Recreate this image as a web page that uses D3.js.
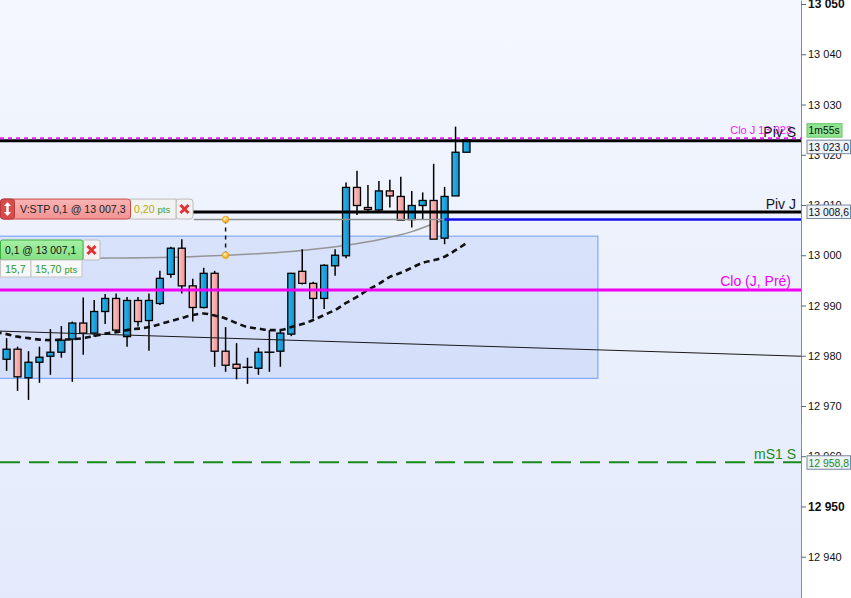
<!DOCTYPE html>
<html><head><meta charset="utf-8">
<script src="https://cdn.jsdelivr.net/npm/d3@7"></script>
<style>html,body{margin:0;padding:0;background:#fff;overflow:hidden}svg{display:block;font-family:"Liberation Sans",Arial,sans-serif}</style>
</head><body><svg id="c" width="851" height="598"></svg>
<script>
// ---------- DATA ----------
const candleOpen  = [12979.3,12981.3,12975.6,12978.7,12979.9,12980.7,12983.3,12986.5,12984.5,12988.8,12991.4,12983.8,12991.0,12987.0,12990.4,12996.2,13001.4,12993.9,12989.6,12996.4,12980.9,12978.3,12977.7,12977.5,12980.7,12980.9,12984.3,12996.8,12994.4,12991.4,12997.9,12999.9,13013.5,13009.5,13009.0,13012.8,13011.7,13007.1,13009.9,13010.9,13003.4,13011.8,13020.5];
const candleHigh  = [12983.5,12981.8,12980.9,12981.8,12985.3,12985.9,12986.8,12991.6,12991.1,12992.3,12992.4,12991.7,12991.7,12992.4,12996.9,13001.7,13003.2,12995.3,12997.5,12996.9,12985.7,12982.5,12979.6,12981.6,12985.1,12985.3,12996.5,13001.2,12994.7,12998.2,13001.2,13014.5,13016.8,13014.0,13014.8,13015.0,13015.6,13012.8,13012.5,13018.2,13013.6,13025.6,13023.4];
const candleLow   = [12977.0,12973.0,12971.2,12974.6,12976.2,12979.6,12974.8,12980.2,12983.8,12986.3,12984.5,12981.8,12985.8,12981.0,12990.1,12995.5,12992.4,12986.8,12989.4,12977.8,12976.8,12975.3,12974.4,12976.2,12976.8,12977.8,12983.9,12994.2,12987.4,12989.3,12995.9,12999.4,13008.0,13008.8,13008.7,13009.5,13007.0,13005.5,13007.1,13003.2,13002.2,13011.8,13020.5];
const candleClose = [12981.3,12975.8,12978.7,12979.7,12980.7,12983.1,12986.5,12984.5,12988.8,12991.4,12985.1,12991.0,12986.8,12991.0,12995.4,13001.4,12993.9,12989.6,12996.4,12980.9,12978.1,12977.5,12977.7,12980.7,12980.7,12984.5,12996.4,12994.4,12991.4,12998.0,13000.0,13013.5,13009.9,13009.1,13012.8,13011.8,13007.0,13009.9,13010.9,13003.2,13011.7,13020.5,13023.0];
// moving average, index -1 .. 42
const maValues = [12984.7,12984.3,12983.8,12983.5,12983.2,12983.1,12983.2,12983.3,12983.5,12983.9,12984.4,12984.7,12985.1,12985.4,12985.7,12986.3,12986.9,12987.5,12988.1,12988.4,12988.0,12987.4,12986.5,12985.7,12985.4,12985.1,12985.1,12985.7,12986.3,12987.1,12988.1,12989.1,12990.5,12991.7,12993.1,12994.3,12995.7,12996.5,12997.5,12998.5,12999.0,12999.7,13001.0,13002.4];
// gray projection curve
const grayCurveIndex  = [-1, 8, 16, 20, 26, 31, 34, 37, 39.5, 40];
const grayCurveValues = [12999.3,12999.4,12999.65,13000.0,13000.75,13002.0,13003.1,13004.7,13006.7,13007.1];
// thin trend line (ends at chart edges)
const trendValues = [12984.9, 12979.9];
// rectangle zone
const zoneIndex = [-2, 54];
const zoneValues = [13003.8, 12975.5];
// horizontal levels
const pinkDashLevel = 13023.3;
const pivSLevel = 13022.8;
const pivJLevel = 13008.6;
const orderLevel = 13007.1;
const orderStopLevel = 13007.3;
const orderStartIndex = 17.1;
const orderBlueIndex = 40;
const dotIndex = 20;
const dotValues = [13007.1, 13000.0];
const cloJPreLevel = 12993.1;
const mS1SLevel = 12958.8;
const lastPrice = 13023.0;
const tickValues = [13050,13040,13030,13020,13010,13000,12990,12980,12970,12960,12950,12940];
const boldTicks = [13050,12950];

// ---------- SETUP ----------
const W=851,H=598,PR=801;
const svg=d3.select("#c");
const x=d3.scaleLinear().domain([0,42]).range([6.6,466.5]);
const y=d3.scaleLinear().domain([12931.78,13050.8]).range([598,0]);
const defs=svg.append("defs");
const bg=defs.append("linearGradient").attr("id","bg").attr("x1",0).attr("y1",0).attr("x2",0).attr("y2",1);
bg.append("stop").attr("offset","0%").attr("stop-color","#f4f7fe");
bg.append("stop").attr("offset","100%").attr("stop-color","#e3eafb");
const gb=defs.append("linearGradient").attr("id","gblue");
gb.append("stop").attr("offset","0%").attr("stop-color","#2cb6ec");
gb.append("stop").attr("offset","100%").attr("stop-color","#1290cc");
const gp=defs.append("linearGradient").attr("id","gpink");
gp.append("stop").attr("offset","0%").attr("stop-color","#fcc4c4");
gp.append("stop").attr("offset","100%").attr("stop-color","#f09494");
const gpk=defs.append("linearGradient").attr("id","gstp").attr("x1",0).attr("y1",0).attr("x2",0).attr("y2",1);
gpk.append("stop").attr("offset","0%").attr("stop-color","#fab4b4");
gpk.append("stop").attr("offset","100%").attr("stop-color","#f29292");
const gg=defs.append("linearGradient").attr("id","ggreen").attr("x1",0).attr("y1",0).attr("x2",0).attr("y2",1);
gg.append("stop").attr("offset","0%").attr("stop-color","#a6f0a6");
gg.append("stop").attr("offset","100%").attr("stop-color","#84e084");
const rg=defs.append("radialGradient").attr("id","gdot").attr("cx","40%").attr("cy","35%");
rg.append("stop").attr("offset","0%").attr("stop-color","#fff2b0");
rg.append("stop").attr("offset","100%").attr("stop-color","#f2b02a");
defs.append("clipPath").attr("id","clip").append("rect").attr("x",0).attr("y",0).attr("width",PR).attr("height",H);

svg.append("rect").attr("width",W).attr("height",H).attr("fill","#ffffff");
svg.append("rect").attr("width",PR).attr("height",H).attr("fill","url(#bg)");
const g=svg.append("g").attr("clip-path","url(#clip)");

// zone
g.append("rect").attr("x",x(zoneIndex[0])).attr("y",y(zoneValues[0]))
 .attr("width",x(zoneIndex[1])-x(zoneIndex[0])).attr("height",y(zoneValues[1])-y(zoneValues[0]))
 .attr("fill","rgba(110,150,245,0.17)").attr("stroke","#6e9ef8").attr("stroke-width",1);

// gray curve
g.append("path").datum(grayCurveIndex.map((d,i)=>[d,grayCurveValues[i]]))
 .attr("d",d3.line().x(d=>x(d[0])).y(d=>y(d[1])).curve(d3.curveMonotoneX))
 .attr("fill","none").attr("stroke","#959595").attr("stroke-width",1.5);

// candles
const cg=g.append("g");
candleOpen.forEach((o,i)=>{
  const c=candleClose[i],h=candleHigh[i],l=candleLow[i],cx=x(i);
  cg.append("line").attr("x1",cx).attr("x2",cx).attr("y1",y(h)).attr("y2",y(l)).attr("stroke","#000").attr("stroke-width",1.5);
  if(o===c){
    cg.append("line").attr("x1",cx-5).attr("x2",cx+5).attr("y1",y(c)).attr("y2",y(c)).attr("stroke","#000").attr("stroke-width",1.5);
  } else {
    const top=Math.min(y(o),y(c)),bot=Math.max(y(o),y(c));
    cg.append("rect").attr("x",cx-3.5).attr("width",7).attr("y",top).attr("height",Math.max(1,bot-top))
      .attr("fill",c>o?"url(#gblue)":"url(#gpink)").attr("stroke","#000").attr("stroke-width",1.3);
  }
});

// trend line
g.append("line").attr("x1",0).attr("x2",PR).attr("y1",y(trendValues[0])).attr("y2",y(trendValues[1]))
 .attr("stroke","#1a1a1a").attr("stroke-width",1);

// MA dashed
g.append("path").datum(maValues.map((v,i)=>[i-1,v]))
 .attr("d",d3.line().x(d=>x(d[0])).y(d=>y(d[1])).curve(d3.curveMonotoneX))
 .attr("fill","none").attr("stroke","#111").attr("stroke-width",2.6).attr("stroke-dasharray","6,4");

// levels
function hline(v,x1,x2,col,w,dash){
  const l=g.append("line").attr("x1",x1).attr("x2",x2).attr("y1",y(v)).attr("y2",y(v)).attr("stroke",col).attr("stroke-width",w);
  if(dash) l.attr("stroke-dasharray",dash);
}
hline(cloJPreLevel,0,PR,"#f000f0",3);
hline(mS1SLevel,0,PR,"#1a8a1a",2,"20,9");
hline(orderLevel,x(orderStartIndex),x(orderBlueIndex),"#8e8e8e",1.5);
hline(orderLevel,x(orderBlueIndex),PR,"#1010e8",2.5);
hline(pivJLevel,0,PR,"#000",3);
hline(pivSLevel,0,PR,"#000",3);
hline(pinkDashLevel,0,PR,"#f020f0",2,"4,4");

// dots + dashed connector
g.append("line").attr("x1",x(dotIndex)).attr("x2",x(dotIndex)).attr("y1",y(dotValues[0])).attr("y2",y(dotValues[1]))
 .attr("stroke","#111").attr("stroke-width",1.5).attr("stroke-dasharray","4,4");
dotValues.forEach(v=>g.append("circle").attr("cx",x(dotIndex)).attr("cy",y(v)).attr("r",3.3)
 .attr("fill","url(#gdot)").attr("stroke","#e0a020").attr("stroke-width",0.8));

// level texts
function ltxt(t,xr,yy,col,size){
  svg.append("text").attr("x",xr).attr("y",yy).attr("text-anchor","end").attr("fill",col).attr("font-size",size).text(t);
}
ltxt("Clo J 13 023",792,y(pinkDashLevel)-4,"#f020f0",11);
ltxt("Piv S",796,y(pivSLevel)-3.5,"#15152a",14);
ltxt("Piv J",796,y(pivJLevel)-3.5,"#15152a",14);
ltxt("Clo (J, Pré)",791,y(cloJPreLevel)-4,"#f000f0",14);
ltxt("mS1 S",796,y(mS1SLevel)-3,"#1a8a1a",14);

// ---------- ORDER BOXES ----------
function xmark(cx,cy){
  svg.append("path").attr("d",`M${cx-4},${cy-4}L${cx+4},${cy+4}M${cx+4},${cy-4}L${cx-4},${cy+4}`)
   .attr("stroke","#e03434").attr("stroke-width",3);
}
const b1t=y(orderStopLevel)-19.5, b1h=20;
svg.append("rect").attr("x",176).attr("y",b1t).attr("width",17).attr("height",b1h).attr("rx",3).attr("fill","#f2f2f2").attr("stroke","#bcbcbc");
svg.append("rect").attr("x",130).attr("y",b1t).attr("width",46).attr("height",b1h).attr("fill","#f2f2f2").attr("stroke","#bcbcbc");
svg.append("rect").attr("x",0.5).attr("y",b1t).attr("width",130).attr("height",b1h).attr("rx",3).attr("fill","url(#gstp)").attr("stroke","#cc4a4a");
svg.append("rect").attr("x",0.5).attr("y",b1t).attr("width",14).attr("height",b1h).attr("rx",3).attr("fill","#d84c4c").attr("stroke","#b83a3a");
const ac=7.5, am=b1t+b1h/2;
svg.append("path").attr("d",`M${ac},${am-7}L${ac+3.5},${am-3}L${ac+1.2},${am-3}L${ac+1.2},${am+3}L${ac+3.5},${am+3}L${ac},${am+7}L${ac-3.5},${am+3}L${ac-1.2},${am+3}L${ac-1.2},${am-3}L${ac-3.5},${am-3}Z`).attr("fill","#fff");
svg.append("text").attr("x",20).attr("y",b1t+14).attr("font-size",10.6).attr("fill","#222").text("V:STP 0,1 @ 13 007,3");
const t1=svg.append("text").attr("x",134).attr("y",b1t+14).attr("font-size",10.6);
t1.append("tspan").attr("fill","#c0ac00").text("0,20 ");
t1.append("tspan").attr("fill","#3aa03a").attr("font-size",9.5).text("pts");
xmark(184.5,b1t+b1h/2);

const b2t=240;
svg.append("rect").attr("x",83).attr("y",b2t).attr("width",17).attr("height",20).attr("rx",2).attr("fill","#f2f2f2").attr("stroke","#bcbcbc");
svg.append("rect").attr("x",0.5).attr("y",b2t).attr("width",82.5).attr("height",20).attr("rx",2).attr("fill","url(#ggreen)").attr("stroke","#3cb03c");
svg.append("text").attr("x",5).attr("y",b2t+14).attr("font-size",10.4).attr("fill","#111").text("0,1 @ 13 007,1");
xmark(91.5,b2t+10);
svg.append("rect").attr("x",0.5).attr("y",b2t+20).attr("width",30.5).attr("height",17).attr("fill","#f8f8f8").attr("stroke","#c4c4c4");
svg.append("rect").attr("x",31).attr("y",b2t+20).attr("width",51).attr("height",17).attr("fill","#f8f8f8").attr("stroke","#c4c4c4");
svg.append("text").attr("x",5).attr("y",b2t+32.5).attr("font-size",10.6).attr("fill","#2a9a2a").text("15,7");
const t2=svg.append("text").attr("x",35).attr("y",b2t+32.5).attr("font-size",10.6).attr("fill","#2a9a2a");
t2.append("tspan").text("15,70 ");
t2.append("tspan").attr("font-size",9.5).text("pts");

// ---------- AXIS ----------
const fmt=d3.format(",");
const axis=d3.axisRight(y).tickValues(tickValues).tickSize(5).tickSizeOuter(0).tickPadding(2)
  .tickFormat(d=>fmt(d).replace(/,/g," "));
const ag=svg.append("g").attr("transform",`translate(${PR},0)`).call(axis);
ag.select(".domain").attr("stroke","#7e8e9e");
ag.selectAll(".tick line").attr("stroke","#5a6a7a");
ag.selectAll(".tick text").attr("fill","#111").attr("font-size",11)
  .attr("font-family",'"Liberation Sans",Arial,sans-serif')
  .filter(d=>boldTicks.includes(d)).attr("font-weight","bold").attr("font-size",12);

// price boxes
const pfmt=v=>d3.format(",.1f")(v).replace(/,/g," ").replace(".",",");
function pbox(top,text,fill,stroke,col,w){
  svg.append("rect").attr("x",807).attr("y",top).attr("width",w||43.5).attr("height",13.5).attr("fill",fill).attr("stroke",stroke);
  svg.append("text").attr("x",808.5).attr("y",top+10.8).attr("font-size",10.4).attr("fill",col).text(text);
}
pbox(y(lastPrice)-16,"1m55s","#90e490","#6cc46c","#111",35);
pbox(y(lastPrice)+0.5,pfmt(lastPrice),"#eef2f9","#7888a0","#111");
pbox(y(pivJLevel)-7,pfmt(pivJLevel),"#eef2f9","#7888a0","#111");
pbox(y(mS1SLevel)-6.5,pfmt(mS1SLevel),"#eef2f9","#7888a0","#1a8a1a");
</script></body></html>
